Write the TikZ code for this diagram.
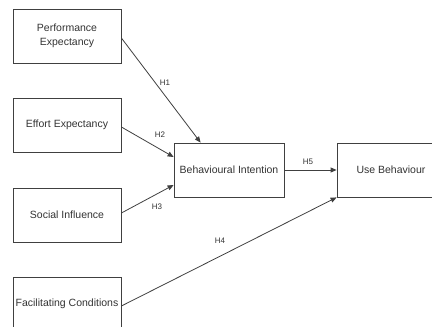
\documentclass[tikz,border=0pt]{standalone}
\usepackage{fontspec}
\setmainfont{Liberation Sans}
\usetikzlibrary{arrows.meta,calc}
\begin{document}
\begin{tikzpicture}[x=1pt,y=-1pt,
  construct/.style={draw=black!75,line width=0.8pt,minimum width=108pt,minimum height=54pt,
    inner sep=0pt,align=center,font=\fontsize{10.5}{14}\selectfont,text=black!80},
  path/.style={draw=black!75,line width=0.8pt,-{Triangle[length=6pt,width=5pt]}},
  hyp/.style={font=\fontsize{8}{9}\selectfont,text=black!80,inner sep=0pt}]
\useasboundingbox (0,0) rectangle (432,327);
\clip (0,0) rectangle (432,327);
\fill[white] (0,0) rectangle (432,327);
% exogenous constructs
\node[construct] (pe) at (67,36) {Performance\\Expectancy};
\node[construct] (ee) at (67,125) {Effort Expectancy};
\node[construct] (si) at (67,215) {Social Influence};
\node[construct] (fc) at (67,304) {Facilitating Conditions};
% endogenous constructs
\node[construct,minimum width=110pt] (bi) at (229,170) {Behavioural Intention};
\node[construct] (ub) at (391,170) {Use Behaviour};
% arrow end points on the target boxes
\coordinate (h1e) at ($(bi.north west)+(27,0)$);
\coordinate (h2e) at ($(bi.west)+(0,-13)$);
\coordinate (h3e) at ($(bi.west)+(0,15)$);
% hypothesised paths
\draw[path] ($(pe.east)+(0,2)$) -- (h1e);
\draw[path] ($(ee.east)+(0,2)$) -- (h2e);
\draw[path] ($(si.east)+(0,-2)$) -- (h3e);
\draw[path] ($(fc.east)+(0,2)$) -- (ub.south west);
\draw[path] (bi.east) -- (ub.west);
% path labels
\node[hyp] (l1) at (165,83) {H1};
\node[hyp] (l2) at (160,135) {H2};
\node[hyp] (l3) at (157,207) {H3};
\node[hyp] (l4) at (220,241) {H4};
\node[hyp] (l5) at (308,162) {H5};
\end{tikzpicture}
\end{document}
